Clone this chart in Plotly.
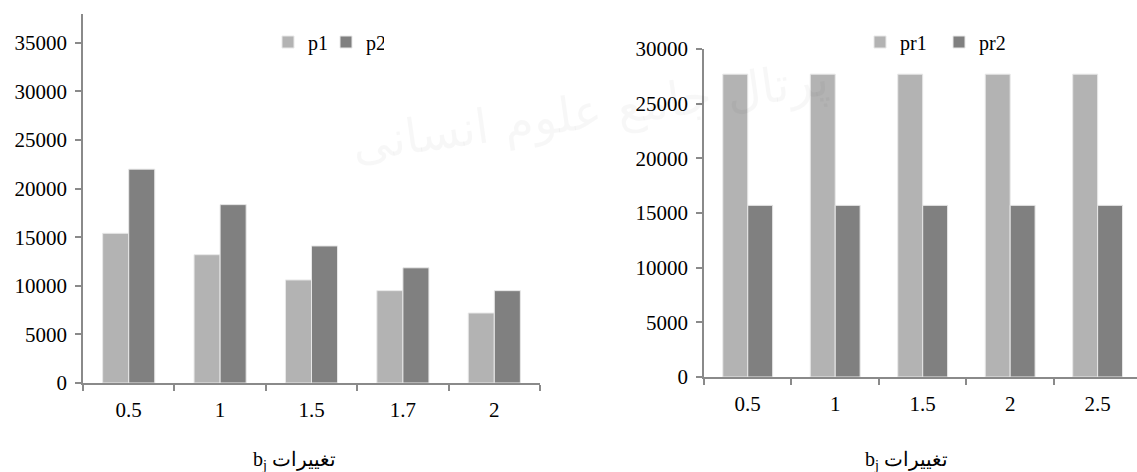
import plotly.graph_objects as go

# Left chart data
left_cats = ["0.5", "1", "1.5", "1.7", "2"]
p1 = [15400, 13200, 10600, 9500, 7200]
p2 = [22000, 18350, 14100, 11850, 9500]

# Right chart data
right_cats = ["0.5", "1", "1.5", "2", "2.5"]
pr1 = [27700, 27700, 27700, 27700, 27700]
pr2 = [15700, 15700, 15700, 15700, 15700]

left_ticks = [0, 5000, 10000, 15000, 20000, 25000, 30000, 35000]
right_ticks = [0, 5000, 10000, 15000, 20000, 25000, 30000]

axis_title = "b<sub>j</sub> تغییرات"

LIGHT = "#b3b3b3"
DARK = "#808080"
AXIS = "#8a8a8a"
FONT = "Liberation Serif"

fig = go.Figure()
fig.add_trace(go.Bar(x=left_cats, y=p1, name="p1", marker=dict(color=LIGHT, line=dict(color="#e8e8e8", width=1)),
                     xaxis="x", yaxis="y", legend="legend"))
fig.add_trace(go.Bar(x=left_cats, y=p2, name="p2", marker=dict(color=DARK, line=dict(color="#e8e8e8", width=1)),
                     xaxis="x", yaxis="y", legend="legend"))
fig.add_trace(go.Bar(x=right_cats, y=pr1, name="pr1", marker=dict(color=LIGHT, line=dict(color="#e8e8e8", width=1)),
                     xaxis="x2", yaxis="y2", legend="legend2"))
fig.add_trace(go.Bar(x=right_cats, y=pr2, name="pr2", marker=dict(color=DARK, line=dict(color="#e8e8e8", width=1)),
                     xaxis="x2", yaxis="y2", legend="legend2"))

W, H = 1137, 472

common_x = dict(type="category", showline=True, linecolor=AXIS, linewidth=1.5,
                ticks="outside", tickson="boundaries", ticklen=6, tickcolor=AXIS, tickwidth=1.5,
                showgrid=False, zeroline=False, ticklabelstandoff=7, automargin=False,
                tickfont=dict(family=FONT, size=21, color="#000"))
common_y = dict(showline=True, linecolor=AXIS, linewidth=1.5, ticks="outside", ticklen=6,
                tickcolor=AXIS, tickwidth=1.5, showgrid=False, zeroline=False, automargin=False,
                tickfont=dict(family=FONT, size=21, color="#000"), ticklabelstandoff=4)

fig.update_layout(
    width=W, height=H,
    margin=dict(l=0, r=0, t=0, b=0, autoexpand=False),
    paper_bgcolor="white", plot_bgcolor="white",
    barmode="group", bargap=0.43, bargroupgap=0,
    font=dict(family=FONT, color="#000"),
    xaxis=dict(common_x, domain=[83 / W, 540 / W], anchor="y", range=[-0.5, 4.5]),
    yaxis=dict(common_y, domain=[(H - 383) / H, (H - 14) / H], anchor="x",
               range=[0, 37960], tickvals=left_ticks, ticktext=[str(v) for v in left_ticks]),
    xaxis2=dict(common_x, domain=[704 / W, 1.0], anchor="y2", range=[-0.5, 4.45]),
    yaxis2=dict(common_y, domain=[(H - 377) / H, (H - 49) / H], anchor="x2",
                range=[0, 30000], tickvals=right_ticks, ticktext=[str(v) for v in right_ticks]),
    legend=dict(orientation="h", x=268 / W, y=1 - 42 / H, xanchor="left", yanchor="middle",
                font=dict(family=FONT, size=20), itemwidth=30, bgcolor="rgba(0,0,0,0)",
                entrywidth=13),
    legend2=dict(orientation="h", x=860 / W, y=1 - 42 / H, xanchor="left", yanchor="middle",
                 font=dict(family=FONT, size=20), itemwidth=30, bgcolor="rgba(0,0,0,0)",
                 entrywidth=34),
    showlegend=True,
)

fig.add_annotation(text="پرتال جامع علوم انسانی", xref="paper", yref="paper",
                   x=590 / W, y=1 - 48 / H, showarrow=False, textangle=-8,
                   font=dict(family="DejaVu Sans", size=48, color="rgba(0,0,0,0.03)"))

fig.add_annotation(text=axis_title, xref="paper", yref="paper", x=294 / W, y=1 - 460 / H,
                   showarrow=False, xanchor="center", yanchor="middle",
                   font=dict(family=FONT, size=20, color="#000"))
fig.add_annotation(text=axis_title, xref="paper", yref="paper", x=906 / W, y=1 - 460 / H,
                   showarrow=False, xanchor="center", yanchor="middle",
                   font=dict(family=FONT, size=20, color="#000"))

fig.write_html("out.html", config={"displayModeBar": False},
               post_script="document.body.style.margin='0';document.body.style.overflow='hidden';")
